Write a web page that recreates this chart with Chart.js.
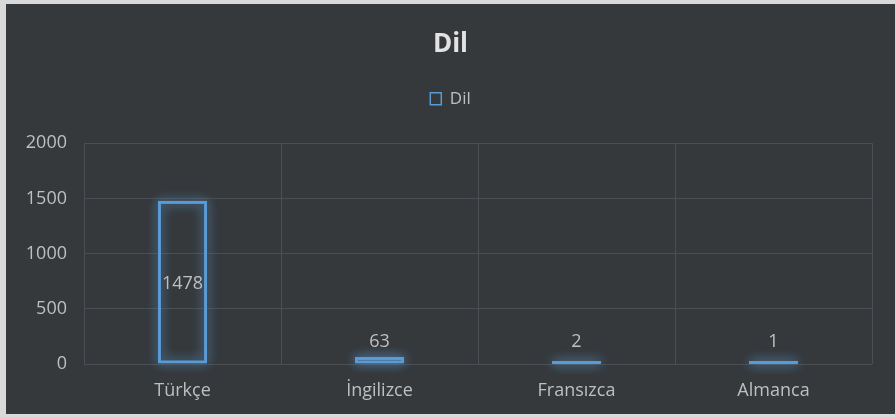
<!DOCTYPE html>
<html>
<head>
<meta charset="utf-8">
<script src="https://cdn.jsdelivr.net/npm/chart.js@4.4.1/dist/chart.umd.min.js"></script>
<style>
  html, body { margin: 0; padding: 0; background: #d9d9d9; width: 895px; height: 417px; overflow: hidden; }
  #wrap { position: absolute; left: 6px; top: 4px; width: 889px; height: 410px; background: #36393c; }
  canvas { display: block; }
</style>
</head>
<body>
<div id="wrap"><canvas id="c" width="889" height="410"></canvas></div>
<script>
const categories = ["Türkçe", "İngilizce", "Fransızca", "Almanca"];
const seriesName = "Dil";
const values = [1478, 63, 2, 1];
const yTicks = [0, 500, 1000, 1500, 2000];

const blue = "#5b9bd5";
const textColor = "#bfbfbf";
const gridColor = "#4b4e52";
const font = "'Open Sans', 'Noto Sans', sans-serif";

// soft glow drawn behind each bar, from the bar elements' own geometry
const glowPlugin = {
  id: "glow",
  beforeDatasetsDraw(chart) {
    const ctx = chart.ctx;
    const meta = chart.getDatasetMeta(0);
    ctx.save();
    ctx.strokeStyle = blue;
    ctx.lineWidth = 2;
    ctx.shadowColor = "rgba(91,155,213,0.8)";
    ctx.shadowBlur = 12;
    meta.data.forEach(bar => {
      const { x, y, base, width } = bar.getProps(["x", "y", "base", "width"], true);
      const top = Math.min(y, base), h = Math.abs(base - y);
      for (let k = 0; k < 2; k++) {
        ctx.strokeRect(x - width / 2 + 1.5, top + 1.5, width - 3, Math.max(h - 3, 0.5));
      }
    });
    ctx.restore();
  }
};

const labelPlugin = {
  id: "barLabels",
  afterDatasetsDraw(chart) {
    const ctx = chart.ctx;
    const meta = chart.getDatasetMeta(0);
    ctx.save();
    ctx.fillStyle = textColor;
    ctx.font = "18px " + font;
    ctx.textAlign = "center";
    ctx.textBaseline = "middle";
    meta.data.forEach((bar, i) => {
      const v = chart.data.datasets[0].data[i];
      const h = bar.base - bar.y;
      let y;
      if (h > 60) y = (bar.y + bar.base) / 2 + 2;
      else y = Math.min(bar.y - 15, bar.base - 22);
      ctx.fillText(String(v), bar.x, y);
    });
    ctx.restore();
  }
};

const legendSpace = {
  id: "legendSpace",
  beforeUpdate(chart) {
    const lg = chart.legend;
    if (lg && !lg._patched) {
      const orig = lg.fit;
      lg.fit = function () { orig.call(this); this.height += 26; };
      lg._patched = true;
    }
  }
};

new Chart(document.getElementById("c"), {
  type: "bar",
  data: {
    labels: categories,
    datasets: [{
      label: seriesName,
      data: values,
      backgroundColor: "rgba(0,0,0,0)",
      borderColor: blue,
      borderWidth: 3,
      borderSkipped: false,
      minBarLength: 3,
      categoryPercentage: 1,
      barPercentage: 0.25
    }]
  },
  options: {
    responsive: false,
    animation: false,
    devicePixelRatio: 1,
    layout: { padding: { left: 0, right: 0, top: 0, bottom: 0 } },
    plugins: {
      title: {
        display: true,
        text: seriesName,
        color: "#e3e3e3",
        font: { family: font, size: 26, weight: "bold" },
        padding: { top: 25, bottom: 0 }
      },
      legend: {
        display: true,
        position: "top",
        labels: {
          color: textColor,
          font: { family: font, size: 17 },
          boxWidth: 11,
          boxHeight: 12,
          padding: 30,
          generateLabels(chart) {
            return Chart.defaults.plugins.legend.labels.generateLabels(chart).map(l => {
              l.lineWidth = 1.5;
              l.fillStyle = "rgba(0,0,0,0)";
              return l;
            });
          }
        }
      },
      tooltip: { enabled: false }
    },
    scales: {
      x: {
        grid: { color: gridColor, lineWidth: 1, drawTicks: false, offset: true },
        border: { display: false },
        ticks: { color: textColor, font: { family: font, size: 18 }, padding: 16 },
        afterFit(s) { s.height = 50; }
      },
      y: {
        min: 0, max: 2000,
        grid: { color: gridColor, lineWidth: 1, drawTicks: false },
        border: { display: false },
        afterBuildTicks(s) { s.ticks = yTicks.map(v => ({ value: v })); },
        ticks: { color: textColor, font: { family: font, size: 18 }, padding: 17,
                 callback: v => String(v) },
        afterFit(s) { s.width = 78; }
      },
      yRight: {
        position: "right",
        display: true,
        grid: { display: false, drawTicks: false },
        border: { display: false },
        ticks: { display: false },
        afterFit(s) { s.width = 23; }
      }
    }
  },
  plugins: [legendSpace, glowPlugin, labelPlugin]
});
</script>
</body>
</html>
